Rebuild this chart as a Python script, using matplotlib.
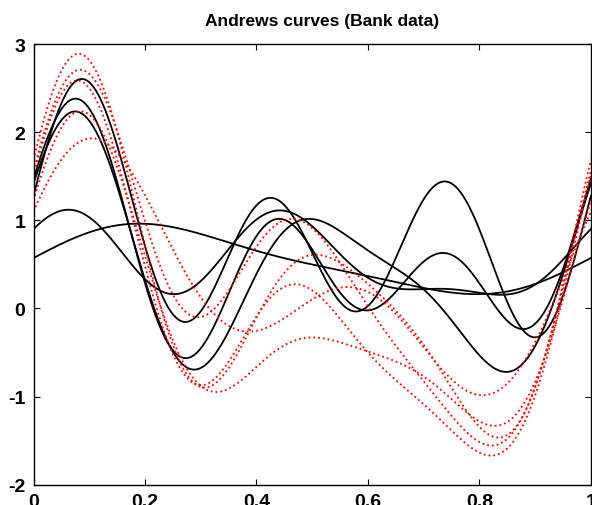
import numpy as np
import matplotlib
matplotlib.use("Agg")
import matplotlib.pyplot as plt

plt.rcParams['font.family'] = ['Liberation Sans', 'DejaVu Sans']
plt.rcParams['axes.unicode_minus'] = False

# observations 96-105 (5 genuine, 5 counterfeit), one list per variable
x1 = [0.769, 0.783, 1.154, 0.804, 0.639, 0.347, 0.499, -0.068, -0.173, 0.378]
x2 = [0.371, 0.214, 0.197, 0.199, 0.262, 0.690, 1.112, 0.901, 0.671, 0.759]
x3 = [0.037, -0.016, 0.322, 0.400, 0.202, 0.540, 0.324, 0.649, 0.778, 0.499]
x4 = [0.079, 0.027, 0.461, 0.420, 0.742, 1.076, 0.755, 0.808, 0.842, 0.723]
x5 = [-0.008, 0.363, 0.140, 0.501, 0.765, 0.902, 0.883, 0.903, 0.571, 0.334]
x6 = [0.000, 0.242, 0.939, 0.740, 0.440, 0.448, 0.423, 0.467, 0.335, 0.022]
genuine = [True] * 5 + [False] * 5

xticks = [0, 0.2, 0.4, 0.6, 0.8, 1]
xticklabels = ['0', '0.2', '0.4', '0.6', '0.8', '1']
yticks = [-2, -1, 0, 1, 2, 3]

t = np.linspace(0, 1, 501)
w = 2 * np.pi * t

fig = plt.figure(figsize=(5.92, 5.06), dpi=100)
ax = fig.add_axes([0.0566, 0.040, 0.9415, 0.871])

for i in range(len(x1)):
    f = (x1[i] / np.sqrt(2) + x2[i] * np.sin(w) + x3[i] * np.cos(w)
         + x4[i] * np.sin(2 * w) + x5[i] * np.cos(2 * w) + x6[i] * np.sin(3 * w))
    if genuine[i]:
        ax.plot(t, f, color='black', lw=1.3, ls='-')
    else:
        ax.plot(t, f, color='red', lw=1.3, ls=':')

ax.set_xlim(0, 1)
ax.set_ylim(-2, 3)
ax.set_xticks(xticks)
ax.set_xticklabels(xticklabels)
ax.set_yticks(yticks)
ax.tick_params(direction='in', length=4, width=0.8, top=True, right=True,
               labelsize=14, pad=6)
for lab in ax.get_xticklabels() + ax.get_yticklabels():
    lab.set_fontweight('bold')
for s in ax.spines.values():
    s.set_linewidth(1.0)

ax.set_title('Andrews curves (Bank data)', fontsize=12.5, fontweight='bold',
             pad=14, x=0.518)

fig.savefig('out.png', dpi=100)
